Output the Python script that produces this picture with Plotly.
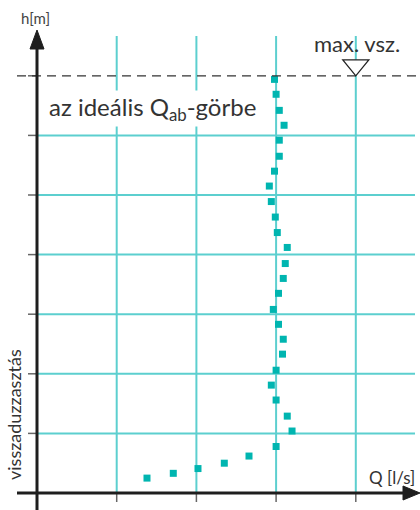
import plotly.graph_objects as go

# Data
Q_values = [2.98, 3.00, 3.04, 3.10, 3.04, 3.04, 2.98, 2.915, 2.94, 2.99, 3.015, 3.14,
            3.115, 3.09, 3.03, 2.965, 3.03, 3.09, 3.08, 3.00, 2.94, 3.00, 3.14, 3.20,
            3.00, 2.66, 2.35, 2.02, 1.71, 1.38]
h_values = [6.94, 6.69, 6.42, 6.17, 5.92, 5.65, 5.40, 5.15, 4.89, 4.63, 4.37, 4.12,
            3.85, 3.60, 3.35, 3.08, 2.83, 2.58, 2.33, 2.06, 1.81, 1.56, 1.29, 1.04,
            0.78, 0.62, 0.50, 0.41, 0.33, 0.25]
q_grid = [1, 2, 3, 4]
h_grid = [1, 2, 3, 4, 5, 6]
h_max = 7

W, H = 420, 510
X0, Y0 = 37, 493          # pixel of origin
SX, SY = 79.7, 59.6       # pixels per unit
xr = [-X0 / SX, (W - X0) / SX]
yr = [-(H - Y0) / SY, Y0 / SY]

def px2q(px):
    return (px - X0) / SX

def px2h(py):
    return (Y0 - py) / SY

GRID = "#5ccfcf"
MARK = "#00b5b0"
AX = "#1e1e1e"
FONT = "Lato, 'Noto Sans', sans-serif"

fig = go.Figure()
fig.add_trace(go.Scatter(
    x=Q_values, y=h_values, mode="markers",
    marker=dict(symbol="square", size=7, color=MARK, line=dict(width=0)),
    hoverinfo="skip", showlegend=False))

shapes = []
# vertical grid lines
for q in q_grid:
    shapes.append(dict(type="line", x0=q, x1=q, y0=0, y1=px2h(36),
                       line=dict(color=GRID, width=2), layer="below"))
# horizontal grid lines
for h in h_grid:
    shapes.append(dict(type="line", x0=0, x1=px2q(415), y0=h, y1=h,
                       line=dict(color=GRID, width=2), layer="below"))
# tick marks
for h in h_grid + [h_max]:
    shapes.append(dict(type="line", x0=px2q(28), x1=0, y0=h, y1=h,
                       line=dict(color="#666666", width=1.5)))
for q in q_grid:
    shapes.append(dict(type="line", x0=q, x1=q, y0=0, y1=px2h(502),
                       line=dict(color="#666666", width=1.5)))
# dashed max line
shapes.append(dict(type="line", x0=px2q(17), x1=xr[1], y0=h_max, y1=h_max,
                   line=dict(color="#333333", width=1.3, dash="9px,6px")))
# axes
shapes.append(dict(type="line", x0=0, x1=0, y0=yr[0], y1=px2h(46),
                   line=dict(color=AX, width=3)))
shapes.append(dict(type="line", x0=px2q(17), x1=px2q(408), y0=0, y1=0,
                   line=dict(color=AX, width=3)))
# arrow heads (pixel sized, anchored at axis ends)
shapes.append(dict(type="path", xsizemode="pixel", ysizemode="pixel",
                   xanchor=0, yanchor=px2h(30),
                   path="M -7,-19 L 7,-19 L 0,0 Z",
                   fillcolor=AX, line=dict(color=AX, width=1)))
shapes.append(dict(type="path", xsizemode="pixel", ysizemode="pixel",
                   xanchor=px2q(420), yanchor=0,
                   path="M -17,7 L -17,-7 L 0,0 Z",
                   fillcolor=AX, line=dict(color=AX, width=1)))
# water level triangle
shapes.append(dict(type="path", xsizemode="pixel", ysizemode="pixel",
                   xanchor=4, yanchor=h_max,
                   path="M -13,16 L 13,16 L 0,0 Z",
                   fillcolor="white", line=dict(color="#222222", width=1.3)))

annotations = [
    dict(x=px2q(35), y=px2h(18), text="h[m]", showarrow=False,
         font=dict(family=FONT, size=15, color="#444444")),
    dict(x=px2q(357), y=px2h(43), text="max. vsz.", showarrow=False,
         font=dict(family=FONT, size=22, color="#333333")),
    dict(x=px2q(47), y=px2h(108), xanchor="left",
         text="az ideális Q<sub>ab</sub>-görbe", showarrow=False,
         bgcolor="white", borderpad=1,
         font=dict(family=FONT, size=24, color="#333333")),
    dict(x=px2q(417), y=px2h(477), xanchor="right", text="Q [l/s]", showarrow=False,
         font=dict(family=FONT, size=17, color="#333333")),
    dict(x=px2q(14), y=px2h(415), text="visszaduzzasztás", textangle=-90,
         showarrow=False, font=dict(family=FONT, size=18, color="#333333")),
]

fig.update_layout(
    width=W, height=H, margin=dict(l=0, r=0, t=0, b=0),
    paper_bgcolor="white", plot_bgcolor="white",
    xaxis=dict(range=xr, visible=False, fixedrange=True),
    yaxis=dict(range=yr, visible=False, fixedrange=True),
    shapes=shapes, annotations=annotations, showlegend=False,
)
fig.write_html("out.html", config={"displayModeBar": False},
               post_script="document.body.style.margin='0';document.body.style.overflow='hidden';")
